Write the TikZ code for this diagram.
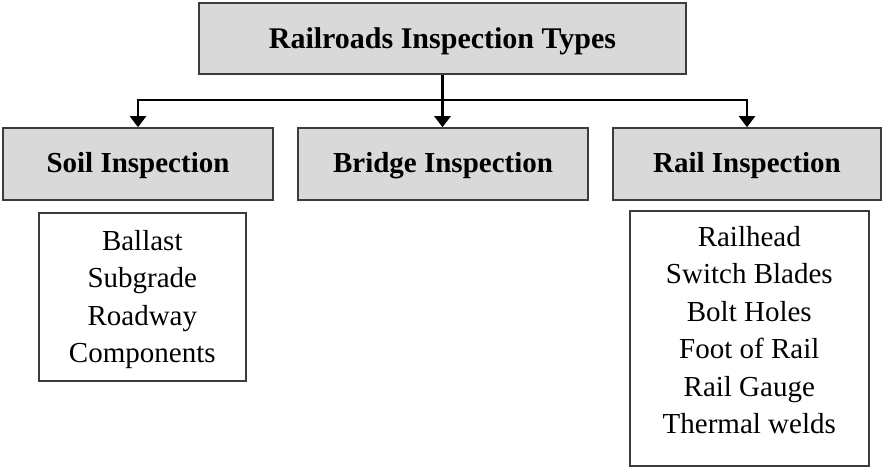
\documentclass[tikz,border=0pt]{standalone}
\usepackage{fontspec}
\setmainfont{Liberation Serif}
\usetikzlibrary{arrows.meta}
\definecolor{headfill}{RGB}{217,217,217}
\definecolor{boxline}{RGB}{60,60,60}
\begin{document}
\begin{tikzpicture}[x=1pt,y=1pt,
  head/.style={draw=boxline,line width=1.6pt,fill=headfill,inner sep=0pt,text height=19,text depth=3,font=\fontsize{29}{35}\selectfont\bfseries},
  itemlist/.style={draw=boxline,line width=1.6pt,inner sep=0pt,align=center,font=\fontsize{29}{37.5}\selectfont},
  link/.style={line width=2.2pt,-{Triangle[length=11pt,width=16pt]}}]
\useasboundingbox (0,0) rectangle (882,-468);
%\draw[gray,very thin] (0,0) grid[step=50] (882,-468);
\node[head,minimum width=487,minimum height=71,text height=21,text depth=0,font=\fontsize{30}{36}\selectfont\bfseries] (types) at (442.5,-38.5) {Railroads Inspection Types};
\node[head,minimum width=270,minimum height=72] (soil) at (138,-164) {Soil Inspection};
\node[head,minimum width=290,minimum height=72] (bridge) at (443,-164) {Bridge Inspection};
\node[head,minimum width=268,minimum height=72] (rail) at (747,-164) {Rail Inspection};
% lists below the headings
\node[itemlist,anchor=north west,minimum width=207,text height=150,text depth=18] (soillist) at (38,-212)
  {Ballast\\Subgrade\\Roadway\\Components};
\node[itemlist,anchor=north west,minimum width=239,text height=223,text depth=32] (raillist) at (629,-210)
  {Railhead\\Switch Blades\\Bolt Holes\\Foot of Rail\\Rail Gauge\\Thermal welds};
% connectors
\coordinate (split) at (0,-100);
\draw[link,line width=3pt] (types.south) -- (types.south |- bridge.north);
\draw[link] (types.south |- split) -| (soil.north);
\draw[link] (types.south |- split) -| (rail.north);
\end{tikzpicture}
\end{document}
